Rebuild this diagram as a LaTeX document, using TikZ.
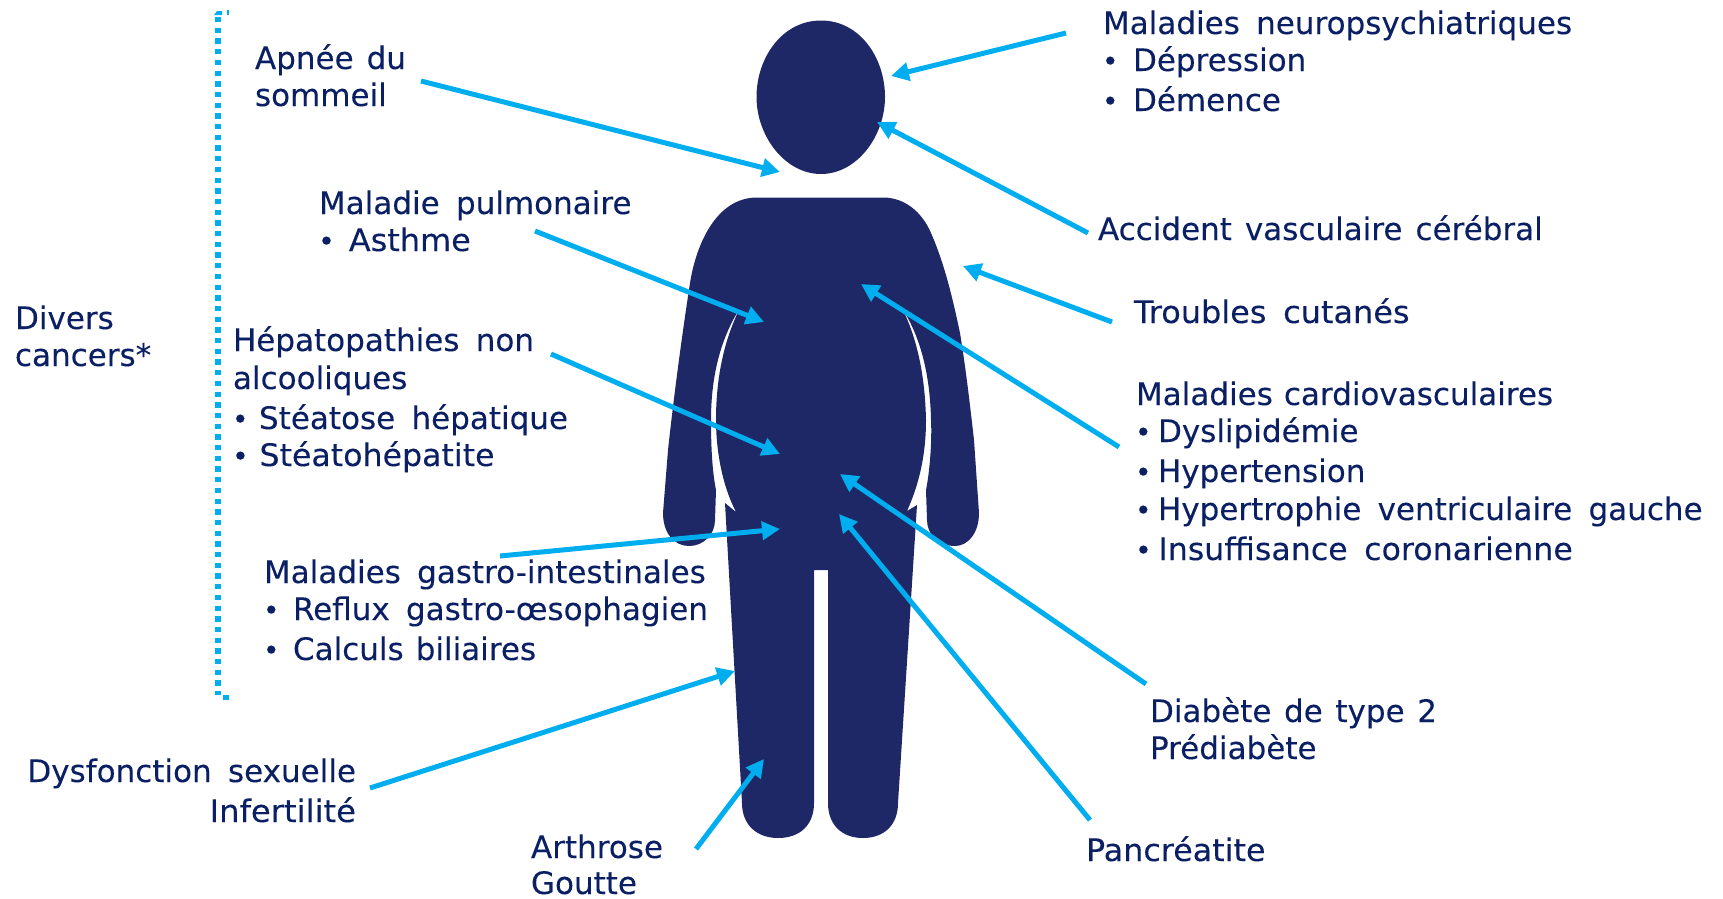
\documentclass[tikz,border=0pt]{standalone}
\usepackage{fontspec}
\setmainfont[WordSpace=1.65,FakeBold=0.12]{DejaVu Sans}
\usetikzlibrary{arrows.meta}
\definecolor{bodynavy}{HTML}{1F2866}
\definecolor{txtnavy}{HTML}{0A1F64}
\definecolor{arrowblue}{HTML}{00AEEF}
\newcommand{\Bul}[2]{\makebox[#1pt][l]{\hspace{-1pt}\fontsize{28}{28}\selectfont•}#2}
\tikzset{
  lbl/.style={inner sep=0pt,outer sep=0pt,anchor=base west,text=txtnavy,font=\fontsize{31}{36}\selectfont},
  lblr/.style={lbl,anchor=base east},
  wsp/.style={execute at begin node={\spaceskip=#1pt\relax}},
  wider/.style={xscale=#1,transform shape},
  link/.style={draw=arrowblue,line width=5pt,-{Triangle[length=18pt,width=18pt]}},
  dots/.style={draw=arrowblue,line width=5.5pt,dash pattern=on 5.3pt off 5.4pt}
}
\begin{document}
\begin{tikzpicture}[x=1pt,y=-1pt]
\useasboundingbox (0,0) rectangle (1723,898);
% head
\fill[bodynavy] (821,20.5) .. controls (782,20.5) and (756.5,58) .. (756.5,97)
  .. controls (756.5,136) and (785,174) .. (821,174)
  .. controls (857,174) and (885,136) .. (885,97)
  .. controls (885,58) and (860,20.5) .. (821,20.5) -- cycle;
% body
\fill[bodynavy] (757,197.5) -- (884,197.5)
  .. controls (905,198) and (922,212) .. (931,233)
  .. controls (945,265) and (953,300) .. (960,333)
  .. controls (966,370) and (970,405) .. (974,440)
  -- (979,513)
  .. controls (979,533) and (968,546) .. (955,546)
  .. controls (939,546) and (927,535) .. (927,520)
  -- (926,490)
  .. controls (930,470) and (932,440) .. (931,420)
  .. controls (930,375) and (921,338) .. (902,308)
  .. controls (917,338) and (925,375) .. (926,420)
  .. controls (926,450) and (921,480) .. (907,511)
  -- (917,505) -- (898,803)
  .. controls (898,825) and (884,838) .. (863,838)
  .. controls (842,838) and (828,825) .. (828,803)
  -- (828,570) -- (814,570) -- (814,803)
  .. controls (814,825) and (800,838) .. (778,838)
  .. controls (757,838) and (742,825) .. (742,803)
  -- (725,503) -- (736,512)
  .. controls (722,485) and (716,450) .. (716,420)
  .. controls (716,375) and (725,338) .. (740,308)
  .. controls (721,338) and (711,375) .. (711,420)
  .. controls (711,445) and (712,470) .. (716,490)
  -- (715,520)
  .. controls (715,535) and (703,546) .. (689,546)
  .. controls (674,546) and (663,533) .. (663,513)
  -- (668,450)
  .. controls (674,395) and (682,335) .. (690,283)
  .. controls (696,245) and (716,197.5) .. (757,197.5) -- cycle;
% dotted bracket
\draw[dots] (218,17) -- (218,695);
\fill[arrowblue] (214,15) -- (217,11) -- (222,11) -- (222,15) -- cycle;
\fill[arrowblue] (227,10) rectangle (229,15);
\fill[arrowblue] (223,695) rectangle (229,700);
% tips and tails
\coordinate (t1) at (1066,33); \coordinate (h1) at (891,76);
\coordinate (t2) at (1088,233); \coordinate (h2) at (877,122);
\coordinate (t3) at (421,81); \coordinate (h3) at (780,172);
\coordinate (t4) at (1112,322); \coordinate (h4) at (963,266);
\coordinate (t5) at (535,231); \coordinate (h5) at (764,322);
\coordinate (t6) at (1119,447); \coordinate (h6) at (861,284);
\coordinate (t7) at (551,354); \coordinate (h7) at (780,454);
\coordinate (t8) at (1146,684); \coordinate (h8) at (840,474);
\coordinate (t9) at (1090,820); \coordinate (h9) at (839,514);
\coordinate (t10) at (500,556); \coordinate (h10) at (780,529);
\coordinate (t11) at (370,788); \coordinate (h11) at (735,671);
\coordinate (t12) at (696,849); \coordinate (h12) at (764,759);
\foreach \i in {1,...,12} \draw[link] (t\i) -- (h\i);
% labels
\node[lbl] (neuro) at (1103,34) {Maladies neuropsychiatriques};
\node[lbl] (neuroa) at (1103,71) {\Bul{30}{Dépression}};
\node[lbl] (neurob) at (1103,111) {\Bul{30}{Démence}};
\node[lbl,wsp=13] (avc) at (1098,240) {Accident vasculaire cérébral};
\node[lbl,wider=1.03] (cutan) at (1134,323) {Troubles cutanés};
\node[lbl,wsp=11] (cardio) at (1136,405) {Maladies cardiovasculaires};
\node[lbl] (cardioa) at (1136,442) {\Bul{22}{Dyslipidémie}};
\node[lbl] (cardiob) at (1136,482) {\Bul{22}{Hypertension}};
\node[lbl] (cardioc) at (1136,520) {\Bul{22}{Hypertrophie ventriculaire gauche}};
\node[lbl,wider=1.02] (cardiod) at (1136,560) {\Bul{22}{Insuffisance coronarienne}};
\node[lbl,wsp=12.6] (diab) at (1150,722) {Diabète de type 2};
\node[lbl] (prediab) at (1150,759) {Prédiabète};
\node[lbl,wider=1.025] (pancr) at (1086,861) {Pancréatite};
\node[lbl] (arth) at (531,858) {Arthrose};
\node[lbl] (gout) at (531,894) {Goutte};
\node[lblr] (dysf) at (356,782) {Dysfonction sexuelle};
\node[lblr,wider=1.04] (infer) at (356,822) {Infertilité};
\node[lbl] (gi) at (264,583) {Maladies gastro-intestinales};
\node[lbl] (gia) at (264,620) {\Bul{29}{Reflux gastro-œsophagien}};
\node[lbl,wsp=12] (gib) at (264,660) {\Bul{29}{Calculs biliaires}};
\node[lbl] (hep) at (233,351) {Hépatopathies non};
\node[lbl] (hepb) at (233,389) {alcooliques};
\node[lbl] (hepc) at (233,429) {\Bul{26}{Stéatose hépatique}};
\node[lbl,wider=1.02] (hepd) at (233,466) {\Bul{26}{Stéatohépatite}};
\node[lbl] (pulm) at (319,214) {Maladie pulmonaire};
\node[lbl,wider=1.03] (asth) at (319,251) {\Bul{29}{Asthme}};
\node[lbl,wsp=13] (apnee) at (255,69) {Apnée du};
\node[lbl] (somm) at (255,106) {sommeil};
\node[lbl] (div) at (15,329) {Divers};
\node[lbl] (canc) at (15,366) {cancers*};
\end{tikzpicture}
\end{document}
